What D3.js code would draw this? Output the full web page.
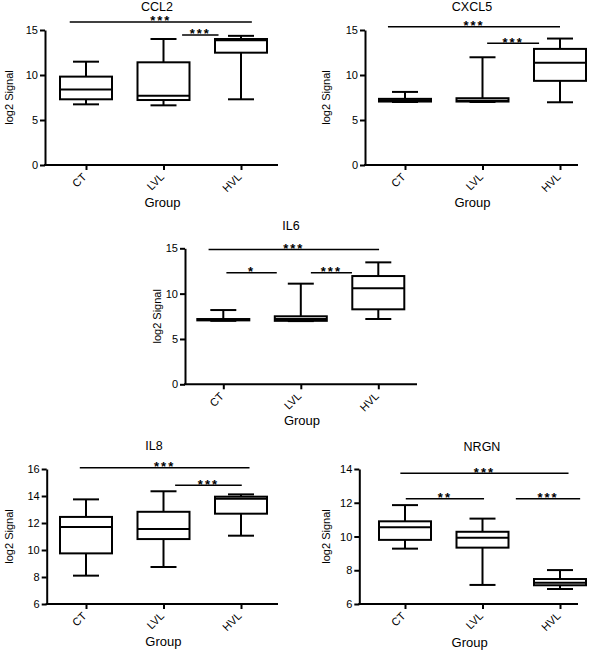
<!DOCTYPE html>
<html>
<head>
<meta charset="utf-8">
<script src="https://cdn.jsdelivr.net/npm/d3@7"></script>
<style>
  html, body { margin: 0; padding: 0; background: #fff; }
  svg { display: block; }
  text { font-family: Arial, "Liberation Sans", sans-serif; fill: #000; }
</style>
</head>
<body>
<svg id="chart" width="600" height="653"></svg>
<script>
// ---------------- DATA ----------------
const groups = ["CT", "LVL", "HVL"];
const genes = ["CCL2", "CXCL5", "IL6", "IL8", "NRGN"];

// box statistics per group: [min, q1, median, q3, max]
const ccl2 = [[6.74, 7.3, 8.4, 9.82, 11.48], [6.63, 7.22, 7.7, 11.41, 14.0], [7.3, 12.48, 13.85, 14.0, 14.35]];
const cxcl5 = [[7.0, 7.05, 7.2, 7.35, 8.12], [7.0, 7.05, 7.15, 7.42, 11.97], [6.97, 9.35, 11.37, 12.9, 14.05]];
const il6 = [[7.0, 7.05, 7.1, 7.2, 8.19], [6.97, 7.0, 7.2, 7.5, 11.1], [7.2, 8.27, 10.58, 11.94, 13.45]];
const il8 = [[8.1, 9.75, 11.7, 12.45, 13.75], [8.74, 10.81, 11.56, 12.83, 14.35], [11.06, 12.69, 13.8, 13.95, 14.12]];
const nrgn = [[9.28, 9.8, 10.55, 10.9, 11.86], [7.13, 9.34, 9.93, 10.28, 11.06], [6.89, 7.11, 7.26, 7.48, 8.01]];

// y tick labels per panel
const ccl2Ticks = [0, 5, 10, 15];
const cxcl5Ticks = [0, 5, 10, 15];
const il6Ticks = [0, 5, 10, 15];
const il8Ticks = [6, 8, 10, 12, 14, 16];
const nrgnTicks = [6, 8, 10, 12, 14];

// significance bars: from / to in group-index units, height in data units
const ccl2Sig = [{ from: -0.21, to: 2.14, y: 15.9, label: "***" }, { from: 1.24, to: 1.71, y: 14.45, label: "***" }];
const cxcl5Sig = [{ from: -0.22, to: 2.0, y: 15.37, label: "***" }, { from: 1.06, to: 1.73, y: 13.52, label: "***" }];
const il6Sig = [{ from: -0.19, to: 2.01, y: 14.88, label: "***" }, { from: 0.04, to: 0.69, y: 12.3, label: "*" }, { from: 1.13, to: 1.66, y: 12.3, label: "***" }];
const il8Sig = [{ from: -0.08, to: 2.11, y: 16.1, label: "***" }, { from: 1.15, to: 2.01, y: 14.8, label: "***" }];
const nrgnSig = [{ from: -0.06, to: 2.11, y: 13.75, label: "***" }, { from: 0.01, to: 1.02, y: 12.24, label: "**" }, { from: 1.43, to: 2.26, y: 12.24, label: "***" }];

const yLabel = "log2 Signal";
const xLabel = "Group";

// ---------------- LAYOUT ----------------
const panels = [
  { title: genes[0], stats: ccl2, ticks: ccl2Ticks, sig: ccl2Sig, left: 45, right: 278, top: 30, bottom: 165, c0: 86, c2: 241, titleX: 157, titleY: 11.3, ylabX: 9, groupY: 207 },
  { title: genes[1], stats: cxcl5, ticks: cxcl5Ticks, sig: cxcl5Sig, left: 365, right: 578, top: 30, bottom: 165, c0: 405, c2: 560, titleX: 472, titleY: 11.3, ylabX: 326, groupY: 207 },
  { title: genes[2], stats: il6, ticks: il6Ticks, sig: il6Sig, left: 185, right: 417, top: 248.3, bottom: 384.3, c0: 223.3, c2: 378.3, titleX: 291, titleY: 230, ylabX: 157, groupY: 425 },
  { title: genes[3], stats: il8, ticks: il8Ticks, sig: il8Sig, left: 46.7, right: 278, top: 469, bottom: 604, c0: 86, c2: 241, titleX: 154, titleY: 450, ylabX: 9, groupY: 646 },
  { title: genes[4], stats: nrgn, ticks: nrgnTicks, sig: nrgnSig, left: 359.3, right: 578, top: 469, bottom: 604, c0: 405, c2: 560, titleX: 482, titleY: 451, ylabX: 326, groupY: 647 }
];

const boxW = 52, capW = 26;
const svg = d3.select("#chart");

panels.forEach(p => {
  const g = svg.append("g");
  const ticks = p.ticks;
  const y = d3.scaleLinear().domain([ticks[0], ticks[ticks.length - 1]]).range([p.bottom, p.top]);
  const x = d3.scalePoint().domain(groups).range([p.c0, p.c2]);
  const xi = d3.scaleLinear().domain([0, groups.length - 1]).range([p.c0, p.c2]);

  // y axis
  const ya = g.append("g").attr("transform", `translate(${p.left},0)`)
    .call(d3.axisLeft(y).tickValues(ticks).tickSize(5).tickSizeOuter(0).tickPadding(2).tickFormat(d3.format("d")));
  ya.select(".domain").attr("stroke-width", 2).attr("stroke", "#000");
  ya.selectAll(".tick line").attr("stroke-width", 2).attr("stroke", "#000");
  ya.selectAll(".tick text").attr("font-size", 11).attr("font-family", "Arial, 'Liberation Sans', sans-serif");

  // x axis baseline
  g.append("line").attr("x1", p.left - 1).attr("x2", p.right).attr("y1", p.bottom).attr("y2", p.bottom)
    .attr("stroke", "#000").attr("stroke-width", 2);
  const xa = g.append("g").attr("transform", `translate(0,${p.bottom})`)
    .call(d3.axisBottom(x).tickSize(5).tickSizeOuter(0));
  xa.select(".domain").remove();
  xa.selectAll(".tick line").attr("stroke-width", 2).attr("stroke", "#000");
  xa.selectAll(".tick text")
    .attr("font-size", 11)
    .attr("font-family", "Arial, 'Liberation Sans', sans-serif")
    .attr("text-anchor", "end")
    .attr("y", 0).attr("dy", "0.35em")
    .attr("transform", "translate(-2,10) rotate(-45)");

  // boxes
  p.stats.forEach((s, i) => {
    const cx = x(groups[i]);
    const [mn, q1, md, q3, mx] = s;
    const bg = g.append("g").attr("stroke", "#000").attr("stroke-width", 2).attr("fill", "none");
    bg.append("line").attr("x1", cx).attr("x2", cx).attr("y1", y(mx)).attr("y2", y(q3));
    bg.append("line").attr("x1", cx).attr("x2", cx).attr("y1", y(q1)).attr("y2", y(mn));
    bg.append("line").attr("x1", cx - capW / 2).attr("x2", cx + capW / 2).attr("y1", y(mx)).attr("y2", y(mx));
    bg.append("line").attr("x1", cx - capW / 2).attr("x2", cx + capW / 2).attr("y1", y(mn)).attr("y2", y(mn));
    bg.append("rect").attr("x", cx - boxW / 2).attr("width", boxW)
      .attr("y", y(q3)).attr("height", Math.max(0.5, y(q1) - y(q3))).attr("fill", "#fff");
    bg.append("line").attr("x1", cx - boxW / 2).attr("x2", cx + boxW / 2).attr("y1", y(md)).attr("y2", y(md));
  });

  // significance
  p.sig.forEach(s => {
    const x1 = xi(s.from), x2 = xi(s.to);
    g.append("line").attr("x1", x1).attr("x2", x2).attr("y1", y(s.y)).attr("y2", y(s.y))
      .attr("stroke", "#000").attr("stroke-width", 1.5);
    g.append("text").attr("x", (x1 + x2) / 2).attr("y", y(s.y) + 3.5)
      .attr("text-anchor", "middle").attr("font-size", 13).attr("font-weight", "bold")
      .attr("letter-spacing", "2px")
      .text(s.label);
  });

  // title
  g.append("text").attr("x", p.titleX).attr("y", p.titleY).attr("text-anchor", "middle")
    .attr("font-size", 12.5).text(p.title);
  // y label
  g.append("text").attr("transform", `translate(${p.ylabX},${(p.top + p.bottom) / 2}) rotate(-90)`)
    .attr("text-anchor", "middle").attr("dy", "0.35em").attr("font-size", 11).text(yLabel);
  // x label
  g.append("text").attr("x", (p.left + p.right) / 2 + 1).attr("y", p.groupY).attr("text-anchor", "middle")
    .attr("font-size", 13).text(xLabel);
});
</script>
</body>
</html>
